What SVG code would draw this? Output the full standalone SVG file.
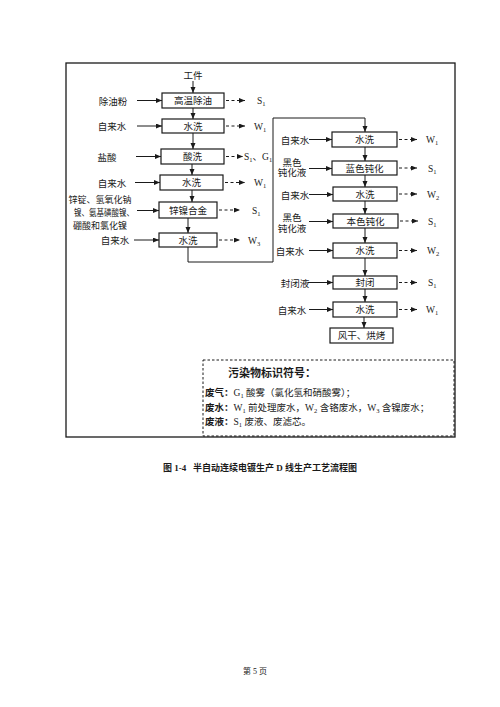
<svg xmlns="http://www.w3.org/2000/svg" width="500" height="707" viewBox="0 0 500 707">
<style>
text{font-family:"Liberation Serif","Noto Sans CJK SC",serif;fill:#1a1a1a}
.b{fill:#fff;stroke:#1a1a1a;stroke-width:1.2}
.t{font-size:9.5px;text-anchor:middle}
.l{font-size:9.5px;text-anchor:middle}
.o{font-size:9.5px}
.s{font-size:6.5px}
.c line,.c path{stroke:#1a1a1a;stroke-width:1;fill:none}
.d{stroke-dasharray:3 2.5}
.bd{font-weight:bold}
</style>
<defs>
<marker id="a" markerUnits="userSpaceOnUse" markerWidth="8" markerHeight="6" refX="6" refY="2.5" orient="auto"><path d="M0,0L6,2.5L0,5z" fill="#1a1a1a"/></marker>
</defs>
<rect width="500" height="707" fill="#fff"/>
<rect id="frame" x="66" y="63" width="389" height="374" fill="none" stroke="#1a1a1a" stroke-width="1.3"/>

<g id="start"><text class="l" x="193" y="78.5">工件</text></g>

<g id="L1"><rect class="b" x="162" y="93" width="62" height="15"/><text class="t" x="193" y="104">高温除油</text>
<text class="l" x="113" y="105">除油粉</text><text class="o" x="257" y="104">S<tspan class="s" dy="2">1</tspan></text></g>
<g id="L2"><rect class="b" x="162" y="119" width="62" height="14"/><text class="t" x="193" y="129.5">水洗</text>
<text class="l" x="112" y="129.5">自来水</text><text class="o" x="254" y="129.5">W<tspan class="s" dy="2">1</tspan></text></g>
<g id="L3"><rect class="b" x="161" y="149" width="63" height="15"/><text class="t" x="192.5" y="160">酸洗</text>
<text class="l" x="107" y="160.5">盐酸</text><text class="o" x="244" y="160">S<tspan class="s" dy="2">1</tspan><tspan dy="-2">、G</tspan><tspan class="s" dy="2">1</tspan></text></g>
<g id="L4"><rect class="b" x="160" y="175" width="63" height="15"/><text class="t" x="191.5" y="186">水洗</text>
<text class="l" x="112" y="186.5">自来水</text><text class="o" x="254" y="186">W<tspan class="s" dy="2">1</tspan></text></g>
<g id="L5"><rect class="b" x="159" y="202" width="58" height="16"/><text class="t" x="188" y="213.5">锌镍合金</text>
<text class="l" x="100" y="202.5" style="font-size:9px">锌锭、氢氧化钠</text>
<text class="l" x="104" y="215.5" style="font-size:9px" textLength="60" lengthAdjust="spacingAndGlyphs">镍、氨基磺酸镍、</text>
<text class="l" x="100" y="228.5" style="font-size:9px">硼酸和氯化镍</text>
<text class="o" x="252" y="213.5">S<tspan class="s" dy="2">1</tspan></text></g>
<g id="L6"><rect class="b" x="159" y="233" width="58" height="14"/><text class="t" x="188" y="243.5">水洗</text>
<text class="l" x="115" y="243.5">自来水</text><text class="o" x="248" y="243.5">W<tspan class="s" dy="2">3</tspan></text></g>

<g id="R1"><rect class="b" x="332" y="132" width="65" height="15"/><text class="t" x="364.5" y="143">水洗</text>
<text class="l" x="295" y="143.5">自来水</text><text class="o" x="426" y="143">W<tspan class="s" dy="2">1</tspan></text></g>
<g id="R2"><rect class="b" x="332" y="161" width="65" height="14"/><text class="t" x="364.5" y="171.5">蓝色钝化</text>
<text class="l" x="292" y="166">黑色</text><text class="l" x="292" y="176">钝化液</text><text class="o" x="428" y="171.5">S<tspan class="s" dy="2">1</tspan></text></g>
<g id="R3"><rect class="b" x="333" y="187" width="64" height="14"/><text class="t" x="365" y="197.5">水洗</text>
<text class="l" x="295" y="198.5">自来水</text><text class="o" x="427" y="197.5">W<tspan class="s" dy="2">2</tspan></text></g>
<g id="R4"><rect class="b" x="333" y="214" width="65" height="14"/><text class="t" x="365.5" y="224.5">本色钝化</text>
<text class="l" x="292" y="220.5">黑色</text><text class="l" x="292" y="231.5">钝化液</text><text class="o" x="428" y="224.5">S<tspan class="s" dy="2">1</tspan></text></g>
<g id="R5"><rect class="b" x="333" y="243" width="64" height="15"/><text class="t" x="365" y="254">水洗</text>
<text class="l" x="290" y="255">自来水</text><text class="o" x="427" y="254">W<tspan class="s" dy="2">2</tspan></text></g>
<g id="R6"><rect class="b" x="333" y="276" width="64" height="13"/><text class="t" x="365" y="286">封闭</text>
<text class="l" x="295" y="286.5">封闭液</text><text class="o" x="428" y="286">S<tspan class="s" dy="2">1</tspan></text></g>
<g id="R7"><rect class="b" x="333" y="302" width="64" height="15"/><text class="t" x="365" y="313">水洗</text>
<text class="l" x="292" y="313.5">自来水</text><text class="o" x="426" y="313">W<tspan class="s" dy="2">1</tspan></text></g>
<g id="R8"><rect class="b" x="330" y="328" width="63" height="15"/><text class="t" x="361.5" y="339">风干、烘烤</text></g>

<g id="connectors" class="c">
<line x1="193" y1="81" x2="193" y2="93" marker-end="url(#a)"/>
<line x1="193" y1="108" x2="193" y2="119" marker-end="url(#a)"/>
<line x1="193" y1="133" x2="193" y2="149" marker-end="url(#a)"/>
<line x1="192" y1="164" x2="192" y2="175" marker-end="url(#a)"/>
<line x1="192" y1="190" x2="192" y2="202" marker-end="url(#a)"/>
<line x1="188" y1="218" x2="188" y2="233" marker-end="url(#a)"/>
<path d="M188,247V262H273V118H365V132" marker-end="url(#a)"/>
<line x1="365" y1="147" x2="365" y2="161" marker-end="url(#a)"/>
<line x1="365" y1="175" x2="365" y2="187" marker-end="url(#a)"/>
<line x1="365" y1="201" x2="365" y2="214" marker-end="url(#a)"/>
<line x1="365" y1="228" x2="365" y2="243" marker-end="url(#a)"/>
<line x1="365" y1="258" x2="365" y2="276" marker-end="url(#a)"/>
<line x1="365" y1="289" x2="365" y2="302" marker-end="url(#a)"/>
<line x1="364" y1="317" x2="364" y2="328" marker-end="url(#a)"/>

<line x1="137" y1="100.5" x2="162" y2="100.5" marker-end="url(#a)"/>
<line x1="137" y1="126" x2="162" y2="126" marker-end="url(#a)"/>
<line x1="136" y1="156.5" x2="161" y2="156.5" marker-end="url(#a)"/>
<line x1="135" y1="182.5" x2="160" y2="182.5" marker-end="url(#a)"/>
<line x1="137" y1="210.5" x2="159" y2="210.5" marker-end="url(#a)"/>
<line x1="134" y1="240" x2="159" y2="240" marker-end="url(#a)"/>
<line x1="309" y1="139.5" x2="332" y2="139.5" marker-end="url(#a)"/>
<line x1="309" y1="168.5" x2="332" y2="168.5" marker-end="url(#a)"/>
<line x1="309" y1="194.5" x2="333" y2="194.5" marker-end="url(#a)"/>
<line x1="309" y1="221.5" x2="333" y2="221.5" marker-end="url(#a)"/>
<line x1="309" y1="250.5" x2="333" y2="250.5" marker-end="url(#a)"/>
<line x1="308" y1="282.5" x2="333" y2="282.5" marker-end="url(#a)"/>
<line x1="309" y1="309.5" x2="333" y2="309.5" marker-end="url(#a)"/>

<line class="d" x1="226" y1="100.5" x2="245" y2="100.5" marker-end="url(#a)"/>
<line class="d" x1="226" y1="126" x2="245" y2="126" marker-end="url(#a)"/>
<line class="d" x1="226" y1="156.5" x2="243" y2="156.5" marker-end="url(#a)"/>
<line class="d" x1="225" y1="182.5" x2="245" y2="182.5" marker-end="url(#a)"/>
<line class="d" x1="219" y1="210" x2="240" y2="210" marker-end="url(#a)"/>
<line class="d" x1="219" y1="240" x2="240" y2="240" marker-end="url(#a)"/>
<line class="d" x1="399" y1="139.5" x2="417" y2="139.5" marker-end="url(#a)"/>
<line class="d" x1="399" y1="168" x2="417" y2="168" marker-end="url(#a)"/>
<line class="d" x1="399" y1="194" x2="417" y2="194" marker-end="url(#a)"/>
<line class="d" x1="400" y1="221" x2="418" y2="221" marker-end="url(#a)"/>
<line class="d" x1="399" y1="250.5" x2="417" y2="250.5" marker-end="url(#a)"/>
<line class="d" x1="399" y1="282.5" x2="417" y2="282.5" marker-end="url(#a)"/>
<line class="d" x1="399" y1="309.5" x2="417" y2="309.5" marker-end="url(#a)"/>
</g>

<g id="legend">
<rect x="203" y="360" width="251" height="76" fill="none" stroke="#1a1a1a" stroke-width="1" stroke-dasharray="2.5 2"/>
<text class="bd" x="228" y="377" style="font-size:11px">污染物标识符号：</text>
<text class="o" x="205" y="396"><tspan class="bd">废气：</tspan>G<tspan class="s" dy="2">1</tspan><tspan dy="-2"> 酸雾（氯化氢和硝酸雾）；</tspan></text>
<text class="o" x="205" y="411"><tspan class="bd">废水：</tspan>W<tspan class="s" dy="2">1</tspan><tspan dy="-2"> 前处理废水，W</tspan><tspan class="s" dy="2">2</tspan><tspan dy="-2"> 含铬废水，W</tspan><tspan class="s" dy="2">3</tspan><tspan dy="-2"> 含镍废水；</tspan></text>
<text class="o" x="205" y="425"><tspan class="bd">废液：</tspan>S<tspan class="s" dy="2">1</tspan><tspan dy="-2"> 废液、废滤芯。</tspan></text>
</g>

<text class="bd" x="163" y="470.5" style="font-size:9px">图 1-4</text>
<text class="bd" x="193" y="470.5" style="font-size:9px">半自动连续电镀生产 D 线生产工艺流程图</text>
<text x="243" y="674" style="font-size:8px">第 5 页</text>
</svg>
